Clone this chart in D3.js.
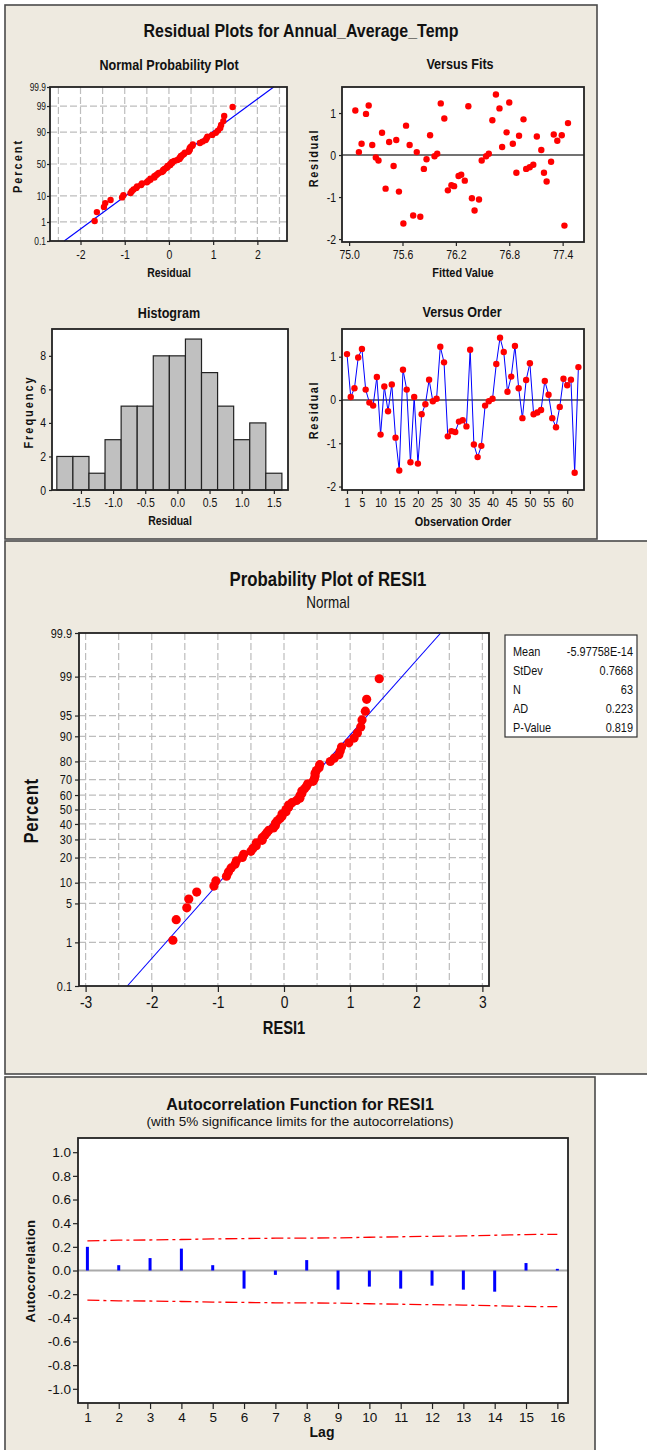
<!DOCTYPE html>
<html><head><meta charset="utf-8">
<script src="https://cdn.jsdelivr.net/npm/d3@7"></script>
<style>
body{margin:0;background:#fff;}
svg text{font-family:"Liberation Sans",Arial,sans-serif;fill:#111;}
</style></head><body><svg id="c" width="647" height="1450"></svg>
<script>
// ---------------- DATA ----------------
const residuals = [1.06, 0.07, 0.27, 0.98, 1.18, 0.24, -0.06, -0.13, 0.53, -0.80, 0.31, -0.26, 0.36, -0.87, -1.63, 0.70, 0.24, -1.44, 0.07, -1.47, -0.33, -0.10, 0.47, -0.03, 0.03, 1.23, 0.87, -0.84, -0.72, -0.74, -0.50, -0.47, -0.61, 1.16, -1.03, -1.32, -1.06, -0.13, -0.03, 0.03, 0.83, 1.44, 1.11, 0.19, 0.54, 1.25, 0.27, -0.42, 0.46, 0.85, -0.33, -0.29, -0.23, 0.44, 0.12, -0.42, -0.63, -0.16, 0.49, 0.34, 0.47, -1.68, 0.76];
const fittedValues = [75.07, 75.11, 75.14, 75.19, 75.22, 75.26, 75.30, 75.33, 75.37, 75.41, 75.45, 75.50, 75.53, 75.56, 75.61, 75.64, 75.68, 75.72, 75.76, 75.80, 75.84, 75.87, 75.91, 75.96, 75.99, 76.03, 76.07, 76.11, 76.15, 76.18, 76.23, 76.26, 76.30, 76.34, 76.38, 76.41, 76.46, 76.49, 76.54, 76.57, 76.61, 76.65, 76.69, 76.72, 76.77, 76.80, 76.84, 76.88, 76.91, 76.96, 76.99, 77.03, 77.07, 77.11, 77.16, 77.19, 77.22, 77.27, 77.30, 77.34, 77.39, 77.42, 77.46];
const histBinCenters = [-1.75, -1.5, -1.25, -1.0, -0.75, -0.5, -0.25, 0.0, 0.25, 0.5, 0.75, 1.0, 1.25, 1.5];
const histCounts = [2, 2, 1, 3, 5, 5, 8, 8, 9, 7, 5, 3, 4, 1];
const histBinWidth = 0.25;
const acfLags = [1, 2, 3, 4, 5, 6, 7, 8, 9, 10, 11, 12, 13, 14, 15, 16];
const acfValues = [0.20, 0.045, 0.105, 0.185, 0.045, -0.153, -0.037, 0.088, -0.162, -0.136, -0.153, -0.128, -0.162, -0.179, 0.063, 0.014];
const acfUpperLimits = [0.250, 0.257, 0.258, 0.262, 0.267, 0.270, 0.273, 0.274, 0.276, 0.281, 0.285, 0.289, 0.292, 0.298, 0.304, 0.306];
const smallProbTicks = [0.1, 1, 10, 50, 90, 99, 99.9];
const bigProbTicks = [0.1, 1, 5, 10, 20, 30, 40, 50, 60, 70, 80, 90, 95, 99, 99.9];
const smallResidTicks = [-2, -1, 0, 1, 2];
const bigResidTicks = [-3, -2, -1, 0, 1, 2, 3];
const fitsXTicks = [75.0, 75.6, 76.2, 76.8, 77.4];
const residYTicks = [-2, -1, 0, 1];
const orderXTicks = [1, 5, 10, 15, 20, 25, 30, 35, 40, 45, 50, 55, 60];
const histXTicks = [-1.5, -1.0, -0.5, 0.0, 0.5, 1.0, 1.5];
const histYTicks = [0, 2, 4, 6, 8];
const acfYTicks = [-1.0, -0.8, -0.6, -0.4, -0.2, 0.0, 0.2, 0.4, 0.6, 0.8, 1.0];
const fitMean = -5.97758e-14;
const fitStDev = 0.7668;
const statLabels = ["Mean", "StDev", "N", "AD", "P-Value"];
const statValues = ["-5.97758E-14", "0.7668", "63", "0.223", "0.819"];

// ---------------- HELPERS ----------------
function qnorm(p){
  const a=[-3.969683028665376e+01,2.209460984245205e+02,-2.759285104469687e+02,1.383577518672690e+02,-3.066479806614716e+01,2.506628277459239e+00];
  const b=[-5.447609879822406e+01,1.615858368580409e+02,-1.556989798598866e+02,6.680131188771972e+01,-1.328068155288572e+01];
  const c=[-7.784894002430293e-03,-3.223964580411365e-01,-2.400758277161838e+00,-2.549732539343734e+00,4.374664141464968e+00,2.938163982698783e+00];
  const d=[7.784695709041462e-03,3.224671290700398e-01,2.445134137142996e+00,3.754408661907416e+00];
  const pl=0.02425, ph=1-pl; let q,r;
  if(p<pl){q=Math.sqrt(-2*Math.log(p));return (((((c[0]*q+c[1])*q+c[2])*q+c[3])*q+c[4])*q+c[5])/((((d[0]*q+d[1])*q+d[2])*q+d[3])*q+1);}
  if(p>ph){q=Math.sqrt(-2*Math.log(1-p));return -(((((c[0]*q+c[1])*q+c[2])*q+c[3])*q+c[4])*q+c[5])/((((d[0]*q+d[1])*q+d[2])*q+d[3])*q+1);}
  q=p-0.5;r=q*q;return (((((a[0]*r+a[1])*r+a[2])*r+a[3])*r+a[4])*r+a[5])*q/(((((b[0]*r+b[1])*r+b[2])*r+b[3])*r+b[4])*r+1);
}
const loc = d3.formatLocale({decimal:".",thousands:",",grouping:[3],currency:["",""],minus:"-"});
const fmtD = loc.format("d"), fmt1 = loc.format(".1f");
const SX = 0.84;
const svg = d3.select("#c");
const BG = "#EEEAE0";

function panel(x,y,w,h){
  svg.append("rect").attr("x",x).attr("y",y).attr("width",w).attr("height",h)
    .attr("fill",BG).attr("stroke","#4a4a4a").attr("stroke-width",1.6);
}
function text(g,x,y,s,o){
  const sx=o.reg?1:SX;
  const t=g.append("text").attr("x",0).attr("y",0).text(s)
    .attr("transform",`translate(${x},${y})${o.rot?" rotate(-90)":""} scale(${sx},1)`)
    .attr("text-anchor",o.anchor||"middle").attr("font-size",o.size||12)
    .attr("font-weight",o.bold?"bold":"normal");
  if(o.ls) t.attr("letter-spacing",o.ls/sx);
  return t;
}
function styleAxis(g,size,reg){
  g.selectAll("path.domain").remove();
  g.selectAll(".tick line").attr("stroke","#222").attr("stroke-width",1.2);
  g.selectAll(".tick text").attr("font-size",size).attr("fill","#111").attr("font-family",null);
  if(!reg){
    g.selectAll(".tick text").each(function(){
      const t=d3.select(this); const x=+t.attr("x")||0, y=+t.attr("y")||0;
      t.attr("x",0).attr("y",0).attr("transform",`translate(${x},${y}) scale(${SX},1)`);
    });
  }
}
function frame(box){
  svg.append("rect").attr("x",box.l).attr("y",box.t).attr("width",box.r-box.l).attr("height",box.b-box.t)
    .attr("fill","none").attr("stroke","#222").attr("stroke-width",1.8);
}
function plotBg(box){
  svg.append("rect").attr("x",box.l).attr("y",box.t).attr("width",box.r-box.l).attr("height",box.b-box.t).attr("fill","#fff");
}

// ---------------- PANELS ----------------
panel(5,5,592,534);
panel(5,541,660,533);
panel(5,1077,590,400);

text(svg,301,37,"Residual Plots for Annual_Average_Temp",{size:19,bold:true});

function probPlot(box, xDom, xTicks, gridX, pTicks, gridP, r, fs){
  plotBg(box);
  const x=d3.scaleLinear().domain(xDom).range([box.l,box.r]);
  const z=d3.scaleLinear().domain([qnorm(0.001),qnorm(0.999)]).range([box.b,box.t]);
  const g=svg.append("g");
  g.selectAll("line.gx").data(gridX).join("line").attr("x1",d=>x(d)).attr("x2",d=>x(d)).attr("y1",box.t).attr("y2",box.b)
    .attr("stroke","#bdbdbd").attr("stroke-width",1.2).attr("stroke-dasharray","7,3");
  g.selectAll("line.gy").data(gridP).join("line").attr("y1",d=>z(qnorm(d/100))).attr("y2",d=>z(qnorm(d/100))).attr("x1",box.l).attr("x2",box.r)
    .attr("stroke","#bdbdbd").attr("stroke-width",1.2).attr("stroke-dasharray","7,3");
  const zl=[qnorm(0.001),qnorm(0.999)];
  g.append("line").attr("x1",x(fitMean+fitStDev*zl[0])).attr("y1",z(zl[0])).attr("x2",x(fitMean+fitStDev*zl[1])).attr("y2",z(zl[1]))
    .attr("stroke","#0000ff").attr("stroke-width",1.1);
  const sorted=residuals.slice().sort((a,b)=>a-b);
  const n=sorted.length;
  g.selectAll("circle").data(sorted).join("circle").attr("cx",d=>x(d)).attr("cy",(d,i)=>z(qnorm((i+1-0.3)/(n+0.4))))
    .attr("r",r).attr("fill","#ff0000");
  frame(box);
  const ax=svg.append("g").attr("transform",`translate(0,${box.b})`)
    .call(d3.axisBottom(x).tickValues(xTicks).tickFormat(fmtD).tickSize(fs.xt).tickPadding(fs.xp));
  styleAxis(ax,fs.x);
  const ay=svg.append("g").attr("transform",`translate(${box.l},0)`)
    .call(d3.axisLeft(z).tickValues(pTicks.map(p=>qnorm(p/100))).tickFormat((d,i)=>String(pTicks[i])).tickSize(fs.yt).tickPadding(fs.yp));
  styleAxis(ay,fs.y);
}

// ===== Normal probability plot (small) =====
probPlot({l:50,r:287,t:87,b:241},[-2.69,2.67],smallResidTicks,[-2.5,-2,-1.5,-1,-0.5,0,0.5,1,1.5,2,2.5],smallProbTicks,[1,10,50,90,99],3.2,{x:12.5,xt:4,xp:5,y:10,yt:3,yp:1});
text(svg,169,70,"Normal Probability Plot",{size:15,bold:true});
text(svg,169,277,"Residual",{size:12.5,bold:true});
text(svg,22,166,"Percent",{size:13,bold:true,rot:true,ls:2});

// ===== Versus Fits =====
(function(){
  const box={l:342,r:584,t:87,b:242};
  plotBg(box);
  const x=d3.scaleLinear().domain([74.92,77.64]).range([box.l,box.r]);
  const y=d3.scaleLinear().domain([-2.07,1.62]).range([box.b,box.t]);
  svg.append("line").attr("x1",box.l).attr("x2",box.r).attr("y1",y(0)).attr("y2",y(0)).attr("stroke","#444").attr("stroke-width",1.4);
  svg.append("g").selectAll("circle").data(residuals).join("circle")
    .attr("cx",(d,i)=>x(fittedValues[i])).attr("cy",d=>y(d)).attr("r",3.2).attr("fill","#ff0000");
  frame(box);
  const ax=svg.append("g").attr("transform",`translate(0,${box.b})`).call(d3.axisBottom(x).tickValues(fitsXTicks).tickFormat(fmt1).tickSize(4).tickPadding(4));
  styleAxis(ax,12.5);
  const ay=svg.append("g").attr("transform",`translate(${box.l},0)`).call(d3.axisLeft(y).tickValues(residYTicks).tickFormat(fmtD).tickSize(3).tickPadding(3));
  styleAxis(ay,12.5);
  text(svg,460,69,"Versus Fits",{size:15,bold:true});
  text(svg,463,277,"Fitted Value",{size:13,bold:true});
  text(svg,318,158,"Residual",{size:13,bold:true,rot:true,ls:1.6});
})();

// ===== Histogram =====
(function(){
  const box={l:52,r:288,t:329,b:490};
  plotBg(box);
  const x=d3.scaleLinear().domain([-1.95,1.72]).range([box.l,box.r]);
  const y=d3.scaleLinear().domain([0,9.6]).range([box.b,box.t]);
  svg.append("g").selectAll("rect").data(histCounts).join("rect")
    .attr("x",(d,i)=>x(histBinCenters[i]-histBinWidth/2)).attr("width",(d,i)=>x(histBinCenters[i]+histBinWidth/2)-x(histBinCenters[i]-histBinWidth/2))
    .attr("y",d=>y(d)).attr("height",d=>y(0)-y(d)).attr("fill","#c0c0c0").attr("stroke","#222").attr("stroke-width",1.2);
  frame(box);
  const ax=svg.append("g").attr("transform",`translate(0,${box.b})`).call(d3.axisBottom(x).tickValues(histXTicks).tickFormat(fmt1).tickSize(4).tickPadding(4));
  styleAxis(ax,12.5);
  const ay=svg.append("g").attr("transform",`translate(${box.l},0)`).call(d3.axisLeft(y).tickValues(histYTicks).tickFormat(fmtD).tickSize(3).tickPadding(3));
  styleAxis(ay,12.5);
  text(svg,169,318,"Histogram",{size:15,bold:true});
  text(svg,170,525,"Residual",{size:12.5,bold:true});
  text(svg,33,412,"Frequency",{size:13,bold:true,rot:true,ls:2});
})();

// ===== Versus Order =====
(function(){
  const box={l:342,r:584,t:329,b:490};
  plotBg(box);
  const x=d3.scaleLinear().domain([-0.34,64.5]).range([box.l,box.r]);
  const y=d3.scaleLinear().domain([-2.08,1.64]).range([box.b,box.t]);
  svg.append("line").attr("x1",box.l).attr("x2",box.r).attr("y1",y(0)).attr("y2",y(0)).attr("stroke","#444").attr("stroke-width",1.4);
  svg.append("path").datum(residuals).attr("d",d3.line().x((d,i)=>x(i+1)).y(d=>y(d))).attr("fill","none").attr("stroke","#0000ff").attr("stroke-width",1);
  svg.append("g").selectAll("circle").data(residuals).join("circle")
    .attr("cx",(d,i)=>x(i+1)).attr("cy",d=>y(d)).attr("r",3.2).attr("fill","#ff0000");
  frame(box);
  const ax=svg.append("g").attr("transform",`translate(0,${box.b})`).call(d3.axisBottom(x).tickValues(orderXTicks).tickFormat(fmtD).tickSize(4).tickPadding(4));
  styleAxis(ax,12.5);
  const ay=svg.append("g").attr("transform",`translate(${box.l},0)`).call(d3.axisLeft(y).tickValues(residYTicks).tickFormat(fmtD).tickSize(3).tickPadding(3));
  styleAxis(ay,12.5);
  text(svg,462,317,"Versus Order",{size:15,bold:true});
  text(svg,463,526,"Observation Order",{size:13,bold:true});
  text(svg,318,410,"Residual",{size:13,bold:true,rot:true,ls:1.6});
})();

// ===== Big probability plot =====
probPlot({l:79,r:489,t:633,b:986},[-3.1,3.1],bigResidTicks,[-3,-2.5,-2,-1.5,-1,-0.5,0,0.5,1,1.5,2,2.5,3],bigProbTicks,[1,5,10,20,30,40,50,60,70,80,90,95,99],4.6,{x:16.5,xt:6,xp:4,y:13,yt:4,yp:3});
text(svg,328,586,"Probability Plot of RESI1",{size:20,bold:true});
text(svg,328,608,"Normal",{size:16});
text(svg,284,1034,"RESI1",{size:17.5,bold:true});
text(svg,38,811,"Percent",{size:20,bold:true,rot:true,ls:0.5});
(function(){
  svg.append("rect").attr("x",505).attr("y",635).attr("width",132).attr("height",102).attr("fill","#fff").attr("stroke","#333").attr("stroke-width",1.2);
  const rows=d3.scaleBand().domain(statLabels).range([642,737]);
  statLabels.forEach((s,i)=>{
    const yy=rows(s)+rows.bandwidth()/2+4.5;
    text(svg,513,yy,s,{size:13,anchor:"start"});
    text(svg,633,yy,statValues[i],{size:13,anchor:"end"});
  });
})();

// ===== ACF =====
(function(){
  const box={l:78,r:568,t:1138,b:1403};
  plotBg(box);
  const x=d3.scaleLinear().domain([0.7,16.34]).range([box.l,box.r]);
  const y=d3.scaleLinear().domain([-1.12,1.12]).range([box.b,box.t]);
  svg.append("line").attr("x1",box.l).attr("x2",box.r).attr("y1",y(0)).attr("y2",y(0)).attr("stroke","#aaa").attr("stroke-width",2);
  const lim=d3.line().x((d,i)=>x(acfLags[i])).y(d=>y(d));
  svg.append("path").datum(acfUpperLimits).attr("d",lim).attr("fill","none").attr("stroke","#ff0000").attr("stroke-width",1.3).attr("stroke-dasharray","12,4,3,4");
  svg.append("path").datum(acfUpperLimits.map(v=>-v)).attr("d",lim).attr("fill","none").attr("stroke","#ff0000").attr("stroke-width",1.3).attr("stroke-dasharray","12,4,3,4");
  svg.append("g").selectAll("line").data(acfValues).join("line")
    .attr("x1",(d,i)=>x(acfLags[i])).attr("x2",(d,i)=>x(acfLags[i])).attr("y1",y(0)).attr("y2",d=>y(d))
    .attr("stroke","#0000ff").attr("stroke-width",3);
  frame(box);
  const ax=svg.append("g").attr("transform",`translate(0,${box.b})`).call(d3.axisBottom(x).tickValues(acfLags).tickFormat(fmtD).tickSize(6).tickPadding(3));
  styleAxis(ax,13.5,true);
  const ay=svg.append("g").attr("transform",`translate(${box.l},0)`).call(d3.axisLeft(y).tickValues(acfYTicks).tickFormat(fmt1).tickSize(5).tickPadding(2));
  styleAxis(ay,13.5,true);
  text(svg,300,1110,"Autocorrelation Function for RESI1",{size:16,bold:true,reg:true});
  text(svg,300,1126,"(with 5% significance limits for the autocorrelations)",{size:13.5,reg:true});
  text(svg,322,1437,"Lag",{size:14,bold:true,reg:true});
  text(svg,35,1271,"Autocorrelation",{size:13,bold:true,rot:true,ls:0.4,reg:true});
})();
</script></body></html>
